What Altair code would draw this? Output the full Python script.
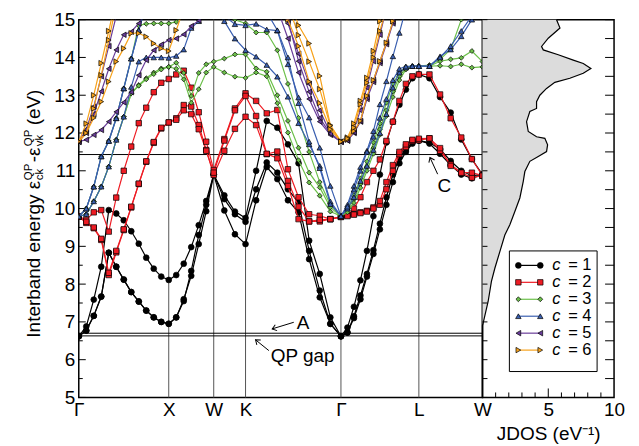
import math
import altair as alt
import numpy as np
import pandas as pd

# ---------------- data ----------------
HS_LABELS = ["Γ", "X", "W", "K", "Γ", "L", "W"]
HS_K = [0.0, 1.0, 1.5, 1.8536, 2.9142, 3.7802, 4.4873]
SEG_POINTS = [12, 6, 3, 9, 12, 6]

SERIES = ["1", "2", "3", "4", "5", "6"]
COLORS = ["#000000", "#ee1c24", "#6cc04a", "#3a5fb0", "#6a3d9a", "#f7a21b"]
SHAPES = ["circle", "square", "diamond", "triangle-up", "triangle-left", "triangle-right"]
SIZES = [34, 30, 24, 30, 30, 30]

# each band: Γ-X (13) | X-W (6) | W-K (3) | K-Γ (9) | Γ-L (12) | L-W (6)
C1_BANDS = [
    [6.62, 6.88, 7.59, 8.46, 9.96, 9.87, 9.69, 9.40, 9.07, 8.70, 8.41, 8.20, 8.11,
     8.24, 8.54, 8.98, 9.56, 10.20, 10.90,
     10.35, 9.92, 9.75,
     11.00, 12.32, 12.14, 11.70, 11.20, 9.15, 8.27, 7.12, 6.62,
     6.85, 7.40, 8.10, 8.88, 9.80, 10.90, 11.75, 12.30, 12.75, 13.15, 13.45, 13.55,
     13.45, 12.95, 12.54, 11.83, 11.31, 10.90],
    [6.62, 6.77, 7.16, 7.67, 8.83, 8.46, 8.12, 7.79, 7.54, 7.30, 7.12, 7.00, 6.95,
     7.12, 7.60, 8.22, 9.06, 9.93, 10.90,
     10.25, 9.85, 9.65,
     10.51, 11.22, 10.95, 10.51, 10.16, 8.88, 7.83, 6.95, 6.62,
     6.72, 7.15, 7.70, 8.27, 8.90, 9.60, 10.30, 10.90, 11.35, 11.55, 11.75, 11.80,
     11.75, 11.57, 11.26, 11.00, 10.87, 10.90],
    [6.62, 6.77, 7.16, 7.67, 8.83, 8.46, 8.12, 7.79, 7.54, 7.30, 7.12, 7.00, 6.95,
     7.12, 7.55, 8.35, 9.30, 10.10, 10.90,
     9.95, 9.32, 9.06,
     10.22, 11.10, 10.78, 10.22, 9.90, 8.66, 7.65, 6.95, 6.62,
     6.72, 7.10, 7.60, 8.20, 8.80, 9.45, 10.10, 10.70, 11.20, 11.50, 11.72, 11.80,
     11.72, 11.45, 11.15, 10.90, 10.80, 10.90],
]
C2_BANDS = [
    [9.79, 9.70, 9.90, 9.96, 9.39, 10.29, 11.00, 11.64, 12.26, 12.67, 13.08, 13.33, 13.43,
     13.55, 13.65, 13.20, 12.55, 11.77, 11.02,
     11.84, 12.65, 13.05,
     12.85, 12.52, 12.61, 11.04, 10.30, 9.85, 9.81, 9.72, 9.78,
     9.82, 10.00, 10.30, 10.70, 11.00, 11.30, 11.79, 12.30, 12.85, 13.30, 13.50, 13.55,
     13.55, 13.02, 12.39, 11.88, 11.31, 10.87],
    [9.79, 9.62, 9.48, 9.17, 8.24, 8.84, 9.43, 10.03, 10.65, 11.24, 11.74, 12.12, 12.28,
     12.39, 12.74, 12.70, 12.21, 11.55, 10.89,
     11.53, 12.11, 12.43,
     12.21, 11.44, 11.51, 10.73, 10.05, 9.66, 9.66, 9.72, 9.78,
     9.83, 9.85, 9.90, 9.94, 10.03, 10.10, 10.51, 11.00, 11.44, 11.63, 11.79, 11.81,
     11.86, 11.53, 11.17, 10.95, 10.82, 10.87],
    [9.79, 9.65, 9.50, 9.20, 8.30, 8.88, 9.45, 10.05, 10.66, 11.25, 11.76, 12.14, 12.28,
     12.35, 12.60, 12.50, 12.10, 11.53, 10.95,
     11.80, 12.60, 12.98,
     12.45, 11.45, 11.33, 10.60, 9.72, 9.66, 9.70, 9.72, 9.78,
     9.80, 9.84, 9.88, 9.92, 10.00, 10.20, 10.70, 11.15, 11.50, 11.70, 11.82, 11.85,
     11.86, 11.60, 11.13, 10.95, 10.95, 10.87],
]
C3_BANDS = [
    [9.79, 10.00, 10.58, 11.38, 11.79, 12.39, 13.18, 13.97, 14.85, 14.89, 14.90, 14.90, 14.90,
     14.94, 15.20, 15.40, 15.40, 15.30, 15.20,
     15.10, 15.00, 14.90,
     14.66, 14.66, 14.19, 13.30, 12.40, 11.50, 10.70, 10.10, 9.80,
     10.00, 10.35, 10.80, 11.25, 11.75, 12.25, 12.80, 13.30, 13.60, 13.75, 13.77, 13.77,
     13.80, 13.95, 14.21, 15.00, 15.60, 16.00],
    [9.79, 9.85, 10.19, 10.58, 11.11, 11.82, 12.43, 13.05, 13.27, 13.45, 13.60, 13.71, 13.75,
     13.86, 13.59, 12.98, 13.59, 13.82, 13.89,
     13.97, 14.08, 14.08,
     13.71, 13.62, 13.00, 12.32, 11.61, 10.95, 10.56, 10.03, 9.80,
     9.95, 10.25, 10.65, 11.10, 11.60, 12.10, 12.60, 13.10, 13.50, 13.72, 13.77, 13.77,
     13.77, 13.90, 13.95, 13.99, 14.17, 13.89],
    [9.79, 9.85, 10.19, 10.58, 11.11, 11.82, 12.43, 13.05, 13.25, 13.42, 13.56, 13.68, 13.75,
     13.70, 13.42, 12.80, 13.16, 13.60, 13.75,
     13.60, 13.49, 13.46,
     13.60, 13.50, 12.79, 12.01, 11.28, 10.69, 10.34, 9.92, 9.80,
     9.90, 10.15, 10.55, 11.00, 11.45, 11.95, 12.45, 12.95, 13.40, 13.68, 13.76, 13.77,
     13.77, 13.78, 13.76, 13.82, 13.73, 13.75],
]
C4_BANDS = [
    [9.79, 9.85, 10.19, 10.58, 11.11, 11.82, 12.43, 13.22, 13.89, 14.00, 14.00, 14.00, 13.99,
     14.04, 14.21, 14.78, 14.96, 15.20, 15.40,
     15.10, 14.88, 14.85,
     14.89, 14.74, 14.71, 13.82, 12.94, 12.41, 11.61, 10.60, 9.80,
     10.10, 10.60, 11.10, 11.53, 12.05, 12.76, 13.37, 14.03, 14.65, 15.30, 15.80, 16.20,
     16.30, 16.20, 16.00, 15.80, 15.60, 15.40],
    [9.79, 10.00, 10.58, 11.38, 11.79, 12.39, 13.18, 13.97, 14.72, 15.40, 16.00, 16.40, 16.60,
     16.50, 16.20, 15.90, 15.60, 15.40, 15.30,
     14.96, 14.50, 14.19,
     14.02, 13.80, 13.49, 12.96, 12.26, 11.70, 11.13, 10.19, 9.80,
     10.00, 10.30, 10.73, 11.13, 11.55, 12.00, 12.50, 13.20, 13.60, 13.73, 13.77, 13.77,
     13.77, 14.03, 14.21, 14.56, 15.00, 15.40],
    [9.79, 10.00, 10.58, 11.38, 11.79, 12.39, 13.18, 13.97, 14.72, 15.40, 16.00, 16.40, 16.60,
     16.60, 16.40, 16.20, 16.00, 15.80, 15.60,
     15.60, 15.60, 15.60,
     15.60, 15.20, 14.72, 14.00, 12.79, 11.77, 11.07, 10.12, 9.80,
     10.05, 10.50, 11.00, 11.50, 11.90, 12.40, 12.90, 13.40, 13.70, 13.76, 13.77, 13.77,
     13.77, 14.00, 14.30, 14.70, 15.10, 15.60],
]
C5_BANDS = [
    [11.77, 11.82, 11.95, 12.08, 12.30, 12.56, 12.81, 13.08, 13.53, 13.93, 14.19, 14.34, 14.46,
     14.50, 14.61, 14.83, 14.98, 15.30, 15.60,
     15.80, 16.00, 16.20,
     16.60, 16.20, 15.60, 14.90, 14.10, 13.30, 12.60, 12.00, 11.77,
     11.80, 12.00, 12.30, 12.90, 13.35, 13.85, 14.35, 14.90, 15.40, 15.90, 16.30, 16.60,
     16.60, 16.40, 16.20, 16.00, 15.80, 15.60],
    [11.77, 12.00, 12.50, 13.10, 13.70, 14.20, 14.60, 14.68, 14.90, 15.30, 15.80, 16.20, 16.50,
     16.60, 16.70, 16.70, 16.60, 16.50, 16.40,
     16.40, 16.40, 16.40,
     16.40, 15.90, 15.30, 14.50, 13.60, 12.90, 12.30, 11.95, 11.77,
     11.80, 12.02, 12.32, 12.95, 13.40, 13.90, 14.40, 14.95, 15.50, 16.00, 16.40, 16.70,
     16.70, 16.60, 16.60, 16.50, 16.40, 16.40],
    [11.77, 12.10, 12.70, 13.50, 14.30, 15.10, 15.80, 16.40, 16.80, 17.00, 17.10, 17.20, 17.20,
     17.20, 17.10, 17.00, 16.90, 16.90, 16.90,
     16.90, 16.90, 16.90,
     16.90, 16.40, 15.80, 15.00, 13.90, 13.09, 12.40, 11.98, 11.77,
     11.85, 12.10, 12.60, 13.20, 13.90, 14.60, 15.30, 15.90, 16.50, 17.00, 17.30, 17.50,
     17.40, 17.30, 17.20, 17.10, 17.00, 16.90],
]
C6_BANDS = [
    [11.77, 12.00, 12.65, 13.53, 14.46, 15.40, 16.30, 17.00, 17.50, 17.80, 18.00, 18.00, 18.00,
     18.00, 18.00, 18.00, 18.00, 18.00, 18.00,
     18.00, 18.00, 18.00,
     17.50, 17.00, 16.30, 15.60, 14.85, 14.37, 13.51, 12.21, 11.77,
     11.88, 12.25, 12.85, 13.46, 14.17, 14.96, 15.70, 16.40, 17.00, 17.50, 17.80, 18.00,
     18.00, 18.00, 18.00, 18.00, 18.00, 18.00],
    [11.77, 12.00, 12.40, 12.83, 13.36, 13.89, 14.24, 14.64, 14.64, 14.55, 14.37, 14.24, 14.17,
     14.72, 15.30, 15.80, 16.20, 16.50, 16.70,
     16.80, 16.90, 17.00,
     17.30, 16.80, 16.10, 15.40, 14.59, 13.89, 13.16, 12.19, 11.77,
     11.82, 12.05, 12.32, 12.98, 13.40, 13.90, 14.39, 14.96, 15.50, 16.00, 16.40, 16.70,
     16.80, 16.80, 16.80, 16.80, 16.70, 16.70],
    [11.77, 12.25, 13.00, 13.85, 14.70, 15.60, 16.40, 17.00, 17.50, 17.80, 18.00, 18.00, 18.00,
     18.00, 18.00, 18.00, 18.00, 18.00, 18.00,
     18.00, 18.00, 18.00,
     17.00, 16.50, 15.80, 15.00, 14.30, 13.36, 12.79, 12.10, 11.77,
     11.85, 12.14, 12.76, 13.33, 14.00, 14.70, 15.30, 15.90, 16.50, 17.00, 17.30, 17.50,
     17.60, 17.70, 17.80, 17.90, 18.00, 18.00],
]

JDOS_E = [15.0, 14.78, 14.51, 14.29, 14.2, 14.07, 13.93, 13.84, 13.71, 13.58, 13.45, 13.34,
          13.18, 13.0, 12.83, 12.65, 12.57, 12.3, 12.04, 11.9, 11.86, 11.69, 11.51, 11.38,
          11.25, 10.98, 10.72, 10.28, 9.92, 9.57, 9.3, 8.86, 8.42, 8.07, 7.54, 6.97, 6.9, 5.0]
JDOS_V = [5.63, 5.89, 5.0, 4.49, 4.62, 5.76, 6.9, 7.66, 8.24, 7.66, 6.64, 5.5,
          4.87, 4.36, 4.11, 4.11, 3.6, 3.35, 3.48, 4.11, 4.74, 4.95, 4.87, 4.24,
          3.6, 3.22, 3.1, 2.84, 2.46, 2.08, 1.7, 1.32, 0.94, 0.68, 0.43, 0.05, 0.0, 0.0]

REF_LINES = [11.43, 6.70, 6.63]   # horizontal reference levels (eV)

ANNOT_TEXT = ["A", "QP gap", "C"]
ANNOT_K = [2.493, 2.488, 4.063]
ANNOT_E = [6.98, 6.11, 10.60]
ARROW_K_TAIL = [2.390, 2.113, 3.989]
ARROW_E_TAIL = [6.99, 6.24, 10.91]
ARROW_K_TIP = [2.150, 1.965, 3.904]
ARROW_E_TIP = [6.815, 6.525, 11.35]

# ---------------- layout ----------------
W_MAIN, W_J, H = 405, 132, 379
FONT = "Liberation Sans"
FS = 19
LEG_FS = 16.5

k_pts = [HS_K[0]]
for s, n in enumerate(SEG_POINTS):
    k_pts += list(np.linspace(HS_K[s], HS_K[s + 1], n + 1)[1:])

rows = []
for c, bands in zip(SERIES, [C1_BANDS, C2_BANDS, C3_BANDS, C4_BANDS, C5_BANDS, C6_BANDS]):
    for b, vals in enumerate(bands):
        assert len(vals) == len(k_pts), (c, b, len(vals))
        for i, (k, e) in enumerate(zip(k_pts, vals)):
            rows.append({"series": c, "band": f"{c}-{b}", "k": k, "E": e, "i": i})
bands_df = pd.DataFrame(rows)

xs = alt.Scale(domain=[0, HS_K[-1]], nice=False, zero=False)
ys = alt.Scale(domain=[5, 15], nice=False, zero=False)

label_expr = "''"
for k, lab in zip(reversed(HS_K), reversed(HS_LABELS)):
    label_expr = f"abs(datum.value - {k}) < 0.001 ? '{lab}' : ({label_expr})"

x_main = alt.X("k:Q", scale=xs, axis=alt.Axis(values=HS_K, labelExpr=label_expr, title=None,
               grid=False, ticks=False, domain=False, labelFontSize=FS, labelPadding=3,
               labelFlush=False, labelOverlap=False, labelFont=FONT))
y_main = alt.Y("E:Q", scale=ys, axis=alt.Axis(values=list(range(5, 16)), title=None, grid=False,
               ticks=False, domain=False, labelFontSize=FS, labelPadding=4, labelFlush=False,
               labelOverlap=False, labelFont=FONT))

dummy = pd.DataFrame({"a": [0]})
layers = []

layers.append(alt.Chart(pd.DataFrame({"k": HS_K[1:-1]})).mark_rule(color="#555555", strokeWidth=1)
              .encode(x=x_main))
layers.append(alt.Chart(pd.DataFrame({"E": REF_LINES})).mark_rule(color="black", strokeWidth=1)
              .encode(y=y_main))

y_major = [float(v) for v in range(5, 16)]
y_minor = [v + 0.5 for v in range(5, 15)]
layers.append(alt.Chart(pd.DataFrame({"E": y_major})).mark_rule(color="black", strokeWidth=1)
              .encode(y=y_main, x=alt.value(0), x2=alt.value(7)))
layers.append(alt.Chart(pd.DataFrame({"E": y_minor})).mark_rule(color="black", strokeWidth=1)
              .encode(y=y_main, x=alt.value(0), x2=alt.value(4)))

for c, col, shp, sz in zip(SERIES, COLORS, SHAPES, SIZES):
    sub = bands_df[bands_df.series == c]
    layers.append(alt.Chart(sub).mark_line(color=col, strokeWidth=1.2, clip=True)
                  .encode(x=x_main, y=y_main, detail="band:N", order="i:Q"))
    layers.append(alt.Chart(sub).mark_point(shape=shp, filled=True, fill=col, stroke="black",
                                             strokeWidth=0.7, size=sz, opacity=1, clip=True)
                  .encode(x=x_main, y=y_main))

# annotations
pxk = W_MAIN / HS_K[-1]
pxe = H / 10.0
arrow_rows, head_rows = [], []
for kt, et, kp, ep in zip(ARROW_K_TAIL, ARROW_E_TAIL, ARROW_K_TIP, ARROW_E_TIP):
    ang = math.degrees(math.atan2(-(ep - et) * pxe, (kp - kt) * pxk)) % 360
    arrow_rows.append({"k": kt, "E": et, "k2": kp, "E2": ep})
    head_rows.append({"k": kp, "E": ep, "ang": ang})
layers.append(alt.Chart(pd.DataFrame(arrow_rows)).mark_rule(color="black", strokeWidth=1)
              .encode(x=x_main, y=y_main, x2="k2:Q", y2="E2:Q"))
layers.append(alt.Chart(pd.DataFrame(head_rows)).mark_point(shape="M-1,-0.75L0,0L-1,0.75", filled=False,
                                                            stroke="black", strokeWidth=1, size=70, opacity=1)
              .encode(x=x_main, y=y_main, angle=alt.Angle("ang:Q", scale=None)))
annot_df = pd.DataFrame({"k": ANNOT_K, "E": ANNOT_E, "label": ANNOT_TEXT})
layers.append(alt.Chart(annot_df).mark_text(fontSize=FS, font=FONT, align="center",
                                            baseline="middle", color="black")
              .encode(x=x_main, y=y_main, text="label:N"))

# y-axis title (rotated pieces with sub/superscripts)
def ttext(txt, x, y, size):
    return alt.Chart(dummy).mark_text(text=txt, angle=270, align="left", baseline="alphabetic",
                                      fontSize=size, font=FONT, color="black").encode(
        x=alt.value(x), y=alt.value(y))

layers += [
    ttext("Interband energy ε", -39, 319, 19),
    ttext("ck", -36, 161, 11.5),
    ttext("QP", -47, 161, 11.5),
    ttext("-ε", -39, 143, 19),
    ttext("vk", -36, 127, 11.5),
    ttext("QP", -47, 127, 11.5),
    ttext("(eV)", -39, 106, 19),
]

main = alt.layer(*layers).properties(width=W_MAIN, height=H)

# ---------------- JDOS panel ----------------
x_j = alt.X("v:Q", scale=alt.Scale(domain=[0, 10], nice=False, zero=False),
            axis=alt.Axis(values=[5, 10], title="JDOS (eV⁻¹)", titleFontSize=FS,
                          titleFontWeight="normal", titleFont=FONT, labelFontSize=FS,
                          labelFont=FONT, ticks=False, domain=False, grid=False,
                          labelPadding=3, titlePadding=5, labelFlush=False))
y_j = alt.Y("E:Q", scale=ys, axis=None)

jdos_df = pd.DataFrame({"E": JDOS_E, "v": JDOS_V})
jl = []
jl.append(alt.Chart(jdos_df).mark_area(orient="horizontal", color="#dcdcdc", opacity=1)
          .encode(x=x_j, x2=alt.value(0), y=y_j))
jl.append(alt.Chart(jdos_df).mark_line(color="black", strokeWidth=1.2)
          .encode(x=x_j, y=y_j, order=alt.Order("E:Q")))
jl.append(alt.Chart(pd.DataFrame({"E": y_major + y_minor})).mark_rule(color="black", strokeWidth=1)
          .encode(y=y_j, x=alt.value(0), x2=alt.value(5)))
jl.append(alt.Chart(pd.DataFrame({"E": y_major + y_minor})).mark_rule(color="black", strokeWidth=1)
          .encode(y=y_j, x=alt.value(W_J - 9), x2=alt.value(W_J)))
jl.append(alt.Chart(pd.DataFrame({"v": [1, 2, 3, 4, 6, 7, 8, 9]})).mark_rule(color="black", strokeWidth=1)
          .encode(x=x_j, y=alt.value(H - 5), y2=alt.value(H)))
jl.append(alt.Chart(pd.DataFrame({"v": [5]})).mark_rule(color="black", strokeWidth=1)
          .encode(x=x_j, y=alt.value(H - 9), y2=alt.value(H)))

# legend (drawn inside the JDOS panel)
LEG_LEFT, LEG_RIGHT, LEG_TOP, LEG_BOTTOM = 27, 115, 232, 353
jl.append(alt.Chart(dummy).mark_rect(fill="white", stroke="black", strokeWidth=1)
          .encode(x=alt.value(LEG_LEFT), x2=alt.value(LEG_RIGHT), y=alt.value(LEG_TOP),
                  y2=alt.value(LEG_BOTTOM)))
to_v = lambda px: px / W_J * 10.0
to_e = lambda py: 15.0 - py / H * 10.0
seg_rows, pt_rows, c_rows, eq_rows = [], [], [], []
for idx, c in enumerate(SERIES):
    e = to_e(LEG_TOP + 14.5 + 17 * idx)
    seg_rows.append({"series": c, "v": to_v(36), "v2": to_v(58), "E": e})
    for px in (36, 58):
        pt_rows.append({"series": c, "v": to_v(px), "E": e})
    c_rows.append({"v": to_v(70), "E": e})
    eq_rows.append({"v": to_v(86), "E": e, "txt": "= " + c})
pts_df = pd.DataFrame(pt_rows)
cscale = alt.Scale(domain=SERIES, range=COLORS)
jl.append(alt.Chart(pd.DataFrame(seg_rows)).mark_rule(strokeWidth=1.2)
          .encode(x=x_j, x2="v2:Q", y=y_j, color=alt.Color("series:N", scale=cscale, legend=None)))
for c, col, shp, sz in zip(SERIES, COLORS, SHAPES, SIZES):
    jl.append(alt.Chart(pts_df[pts_df.series == c])
              .mark_point(shape=shp, filled=True, fill=col, stroke="black", strokeWidth=0.7,
                          size=sz, opacity=1)
              .encode(x=x_j, y=y_j))
jl.append(alt.Chart(pd.DataFrame(c_rows)).mark_text(text="c", fontStyle="italic", fontSize=LEG_FS,
                                                     font=FONT, align="left", baseline="middle",
                                                     color="black")
          .encode(x=x_j, y=y_j))
jl.append(alt.Chart(pd.DataFrame(eq_rows)).mark_text(fontSize=LEG_FS, font=FONT, align="left",
                                                      baseline="middle", color="black")
          .encode(x=x_j, y=y_j, text="txt:N"))

jdos = alt.layer(*jl).properties(width=W_J, height=H)

chart = (
    alt.hconcat(main, jdos, spacing=0, bounds="flush")
    .properties(padding={"left": 14, "top": 1, "right": 5, "bottom": 2})
    .configure_view(stroke="black", strokeWidth=1.5)
    .configure_axis(labelColor="black", titleColor="black")
)

chart.save("out.html", embed_options={"renderer": "svg", "actions": False})
